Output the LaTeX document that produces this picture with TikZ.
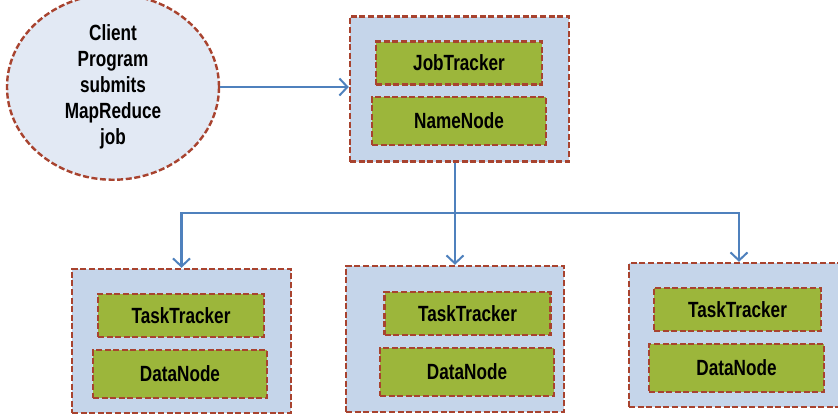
\documentclass[tikz,border=0pt]{standalone}
\usepackage{fontspec}
\setmainfont{Liberation Sans}[FakeStretch=0.78]
\usetikzlibrary{arrows.meta}
\usetikzlibrary{shapes.geometric}
\usetikzlibrary{positioning}
\definecolor{mred}{HTML}{A8432F}
\definecolor{mblue}{HTML}{4F81BD}
\definecolor{rackfill}{HTML}{C5D5EA}
\definecolor{procfill}{HTML}{9CB63B}
\definecolor{clientfill}{HTML}{E2E9F4}
\tikzset{
  redline/.style = {draw=mred, line width=2.4pt, dash pattern=on 6pt off 2.6pt},
  label/.style = {font=\fontsize{22}{26}\selectfont\bfseries},
  rack/.style = {redline, fill=rackfill, minimum width=219, minimum height=145},
  proc/.style = {redline, label, fill=procfill, inner sep=0, minimum width=166, minimum height=43},
  store/.style = {proc, minimum width=174, minimum height=48},
  wire/.style = {draw=mblue, line width=2.6pt},
  link/.style = {wire, -{Straight Barb[length=8pt, width=17pt, line width=2pt]}}
}

\begin{document}
\begin{tikzpicture}[x=1pt, y=-1pt]
    \useasboundingbox (0, 0) rectangle (838, 415);
    \clip (0, 0) rectangle (838, 415);

    \node [redline, label, fill=clientfill, ellipse, minimum width=212, minimum height=159,
      align=center] (client) at (113, 87)
      {Client\\Program\\submits\\MapReduce\\job};

    \node [rack] (master) at (459.5, 89) {};
    \node [proc] (jobtracker) at (459, 63) {JobTracker};
    \node [store] (namenode) at (459, 121) {NameNode};

    \node [rack, minimum height=144] (slaveA) at (181.5, 341) {};
    \node [proc] (trackerA) at (181, 315.5) {TaskTracker};
    \node [store] (dataA) at (180, 374) {DataNode};

    \node [rack, minimum width=218, minimum height=146] (slaveB) at (455, 339) {};
    \node [proc] (trackerB) at (467.5, 313.5) {TaskTracker};
    \node [store] (dataB) at (467, 372) {DataNode};

    \node [rack, minimum width=220, minimum height=144] (slaveC) at (739, 335) {};
    \node [proc, minimum width=167] (trackerC) at (737.5, 309.5) {TaskTracker};
    \node [store, minimum width=175] (dataC) at (736.5, 368) {DataNode};

    \draw [link] (client.east) -- (client.east -| master.west);
    \coordinate (split) at (455, 213);
    \draw [wire] (split |- master.south) -- (split);
    \draw [link] (split) -| (slaveA.north);
    \draw [link] (split) -- (slaveB.north);
    \draw [link] (split) -| (slaveC.north);
  \end{tikzpicture}
\end{document}
